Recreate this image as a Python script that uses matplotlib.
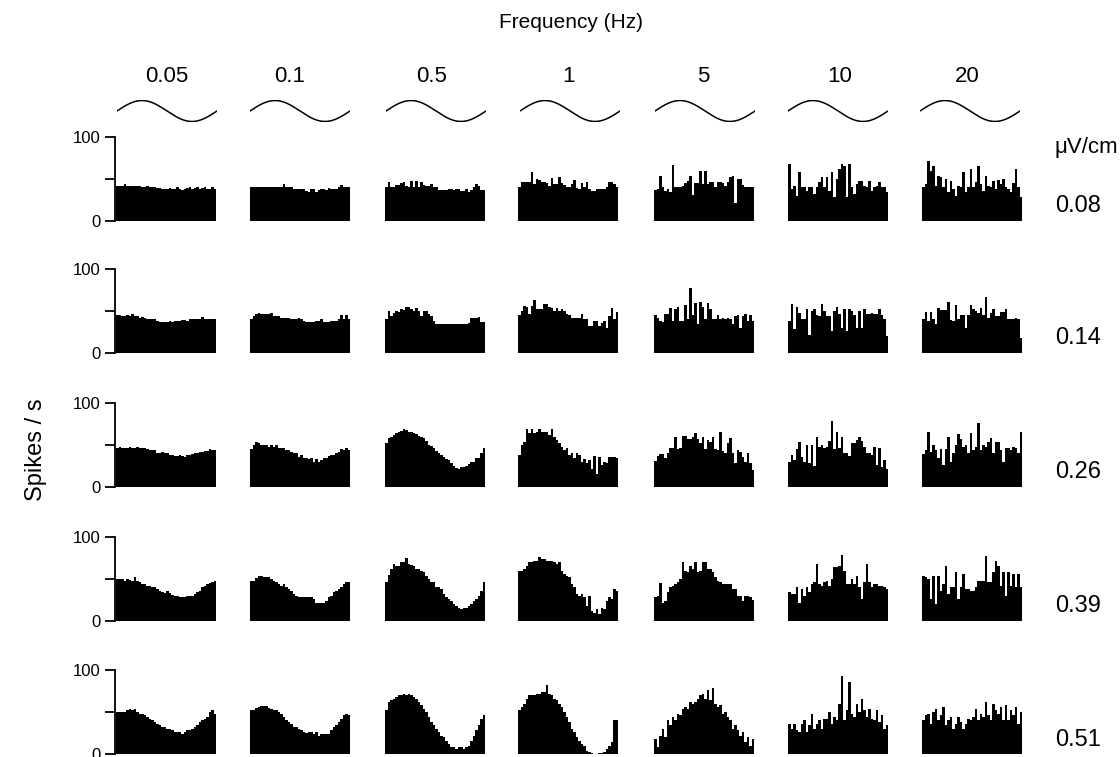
import numpy as np
import matplotlib
matplotlib.use("Agg")
import matplotlib.pyplot as plt

plt.rcParams['font.family'] = ['Liberation Sans', 'DejaVu Sans']

frequencies = ["0.05", "0.1", "0.5", "1", "5", "10", "20"]
field_strengths = ["0.08", "0.14", "0.26", "0.39", "0.51"]

# Firing rate histograms (spikes/s), 40 bins over one stimulus cycle.
rates_008 = [
    [42,42,42,44,42,42,42,42,42,42,41,41,42,41,41,40,39,39,38,38,38,39,38,38,40,38,37,38,39,40,38,39,40,38,39,40,38,38,40,38],
    [41,41,41,41,40,40,41,40,40,40,41,41,41,44,40,40,41,38,38,38,38,38,36,35,38,38,35,37,38,38,37,39,38,38,38,40,43,40,41,41],
    [40,47,40,41,43,43,45,46,42,40,48,40,48,40,47,43,42,42,44,40,40,37,37,37,37,38,38,37,38,38,36,36,38,35,37,41,44,42,37,37],
    [40,46,46,47,47,58,44,50,49,47,46,45,42,51,44,44,52,45,43,41,41,44,49,39,38,45,41,46,38,36,36,38,38,38,38,40,46,46,44,41],
    [37,38,54,41,36,38,35,67,40,40,40,42,45,48,53,31,45,45,60,44,60,44,46,46,40,47,47,45,42,46,52,53,22,50,50,43,40,40,40,40],
    [68,38,42,30,58,40,40,36,41,41,32,40,46,52,40,52,36,58,28,50,62,68,66,28,68,40,32,44,48,48,42,40,48,36,40,42,46,40,40,35],
    [40,44,72,60,66,42,54,52,40,50,34,48,38,30,42,40,58,35,40,62,40,46,66,44,36,54,42,40,48,38,49,44,50,41,38,35,45,62,40,28],
]
rates_014 = [
    [45,45,44,44,45,44,46,44,44,42,43,42,41,40,40,40,38,37,37,37,37,38,37,38,38,38,39,39,38,40,40,40,40,40,43,41,41,41,41,41],
    [40,44,46,48,47,47,46,46,48,44,44,44,42,42,42,42,41,40,41,42,40,38,37,37,37,37,38,38,40,37,37,37,38,38,38,40,45,40,45,40],
    [40,50,44,48,50,49,52,51,55,55,52,50,54,50,44,50,50,46,44,38,35,35,35,35,34,34,35,34,35,34,35,35,34,36,42,42,42,43,37,37],
    [45,50,56,55,47,56,63,52,52,52,58,58,55,54,50,53,50,52,50,47,45,42,42,42,42,46,40,40,32,32,38,38,32,36,38,30,44,54,40,49],
    [45,42,38,37,47,47,53,38,52,55,38,38,57,40,77,45,59,34,61,55,40,59,52,40,40,45,41,42,41,42,41,35,44,45,30,44,46,38,45,38],
    [38,58,28,55,48,40,40,52,22,50,52,45,44,58,50,44,44,26,50,55,46,30,52,26,52,50,45,30,50,30,52,46,46,48,46,46,52,45,40,20],
    [41,49,38,49,40,35,53,51,51,51,61,39,38,57,40,45,45,30,45,57,52,50,48,53,45,67,42,48,52,44,44,49,49,52,40,40,40,42,40,18],
]
rates_026 = [
    [47,48,47,47,47,48,47,47,48,47,46,46,45,44,44,44,41,41,42,40,40,38,38,37,37,38,37,36,38,38,39,40,40,42,42,43,43,45,44,44],
    [45,50,54,52,50,50,50,48,50,48,50,46,46,46,44,44,42,40,40,36,38,35,34,33,34,30,33,30,32,34,35,37,38,38,40,42,45,44,47,44],
    [52,58,60,62,64,66,67,69,68,66,66,64,63,61,60,58,55,50,49,46,43,40,38,36,33,32,28,25,23,22,24,24,25,27,30,30,34,34,40,47],
    [38,50,54,69,64,69,64,66,69,66,66,66,62,69,60,56,52,48,44,46,38,40,35,40,38,30,33,28,32,22,37,16,36,26,30,28,36,36,36,34],
    [31,37,39,39,34,40,47,47,59,45,46,61,61,57,57,60,64,57,52,60,45,56,53,60,45,44,65,43,40,52,58,40,28,44,42,36,30,40,28,20],
    [30,38,32,45,53,36,30,50,28,50,25,60,48,50,46,48,55,78,45,66,46,60,40,40,37,52,52,56,60,55,48,40,40,38,48,26,46,24,32,22],
    [39,44,65,42,50,44,35,45,26,45,59,30,40,50,63,57,48,50,40,64,44,48,76,44,50,48,54,58,40,54,54,44,30,46,46,44,48,46,40,66],
]
rates_039 = [
    [50,50,50,48,50,49,48,52,48,46,44,44,42,42,40,40,38,36,34,33,36,33,31,30,30,28,28,28,30,30,30,32,34,36,40,42,44,45,46,48],
    [48,48,51,54,53,52,52,52,50,48,46,44,42,44,40,38,36,32,30,29,29,29,29,29,28,26,22,22,22,22,24,28,30,34,36,38,40,44,46,46],
    [46,55,62,68,66,66,70,70,75,68,67,66,62,62,60,58,54,50,46,46,40,40,38,32,28,26,24,20,18,16,14,16,16,18,20,24,26,30,36,46],
    [60,60,62,65,70,70,72,72,76,74,74,72,72,72,70,68,70,60,56,54,52,44,40,32,30,32,28,18,30,12,10,14,8,16,14,24,28,26,38,36],
    [28,30,45,22,24,34,40,42,44,46,50,70,60,58,66,62,70,58,60,70,70,62,62,58,52,48,46,44,44,44,44,38,38,30,30,24,30,30,28,25],
    [35,32,32,40,22,38,30,40,34,44,46,68,44,42,46,48,42,50,64,64,66,78,60,44,44,50,44,54,40,26,46,68,46,40,44,44,42,42,40,38],
    [54,52,50,26,54,20,54,36,44,66,32,40,40,58,26,40,56,38,38,36,36,40,48,48,48,77,46,46,58,72,66,42,58,30,58,42,56,40,56,40],
]
rates_051 = [
    [50,50,50,50,52,53,52,53,50,48,48,46,44,42,40,38,36,34,32,32,30,30,28,26,26,26,24,26,28,28,30,32,34,38,40,42,44,50,52,48],
    [52,52,55,56,57,57,57,55,54,52,52,50,48,44,40,38,36,32,32,30,28,26,25,26,26,24,26,22,24,24,24,24,28,32,34,38,42,46,48,46],
    [52,62,64,66,68,70,70,72,70,72,70,68,66,62,58,54,50,44,38,34,30,26,22,20,16,12,8,8,6,8,8,6,8,10,16,22,28,34,42,46],
    [52,56,60,66,70,70,70,72,72,74,74,82,72,70,66,64,60,56,50,44,38,30,26,20,16,12,10,4,2,1,0,0,1,1,2,6,10,14,40,40],
    [18,8,22,30,20,40,34,44,40,48,46,54,56,54,62,60,62,66,70,72,66,76,64,78,60,56,58,48,50,44,40,30,34,28,22,26,14,20,10,18],
    [36,30,36,28,26,36,40,26,34,48,30,36,40,30,42,42,50,36,44,40,60,93,40,52,86,48,44,60,50,66,52,44,54,42,40,52,38,46,30,34],
    [40,46,48,36,50,54,40,46,56,34,40,44,30,36,44,38,30,36,42,40,44,54,40,48,44,62,46,40,60,52,48,56,40,58,40,52,46,56,36,50],
]
all_rates = [rates_008, rates_014, rates_026, rates_039, rates_051]

W, H = 1120, 757
fig = plt.figure(figsize=(W / 100, H / 100), dpi=100)

col_left = [116, 250, 385, 518, 654, 788, 922]
panel_w = 100
row_base = [221, 353, 487, 621, 754]
panel_h = 84
label_x = [167, 290, 432, 568, 703, 840, 967]
sine_left = [117, 250, 386, 520, 655, 788, 920]


def px_axes(x, y_bottom, w, h):
    return fig.add_axes([x / W, (H - y_bottom) / H, w / W, h / H])


for r, rows in enumerate(all_rates):
    for c, vals in enumerate(rows):
        ax = px_axes(col_left[c], row_base[r], panel_w, panel_h)
        edges = np.arange(len(vals) + 1)
        ax.stairs(vals, edges, fill=True, color='black', linewidth=0)
        ax.set_xlim(0, len(vals))
        ax.set_ylim(0, 100)
        for s in ['top', 'right', 'bottom']:
            ax.spines[s].set_visible(False)
        ax.set_xticks([])
        if c == 0:
            ax.spines['left'].set_linewidth(1.3)
            ax.spines['left'].set_position(('outward', 1))
            ax.set_yticks([0, 50, 100])
            ax.set_yticklabels(['0', '', '100'], fontsize=12)
            ax.tick_params(axis='y', length=7, width=1.3, pad=3)
        else:
            ax.spines['left'].set_visible(False)
            ax.set_yticks([])
        ax.patch.set_visible(False)

# stimulus waveform above each column
t = np.linspace(0, 1, 200)
for c in range(7):
    sax = px_axes(sine_left[c], 122, 100, 22)
    sax.plot(t, np.sin(2 * np.pi * t), color='black', lw=1.1)
    sax.set_xlim(0, 1)
    sax.set_ylim(-1.05, 1.05)
    sax.axis('off')
    fig.text(label_x[c] / W, 1 - 77 / H, frequencies[c], ha='center', va='center', fontsize=16)

fig.text(571 / W, 1 - 23 / H, "Frequency (Hz)", ha='center', va='center', fontsize=15)
fig.text(1055 / W, 1 - 147 / H, "μV/cm", ha='left', va='center', fontsize=16)
right_y = [206, 338, 472, 606, 740]
for r, lab in enumerate(field_strengths):
    fig.text(1055 / W, 1 - right_y[r] / H, lab, ha='left', va='center', fontsize=17)
fig.text(36 / W, 1 - 450 / H, "Spikes / s", ha='center', va='center', rotation=90, fontsize=17)

fig.savefig("out.png", dpi=100)
